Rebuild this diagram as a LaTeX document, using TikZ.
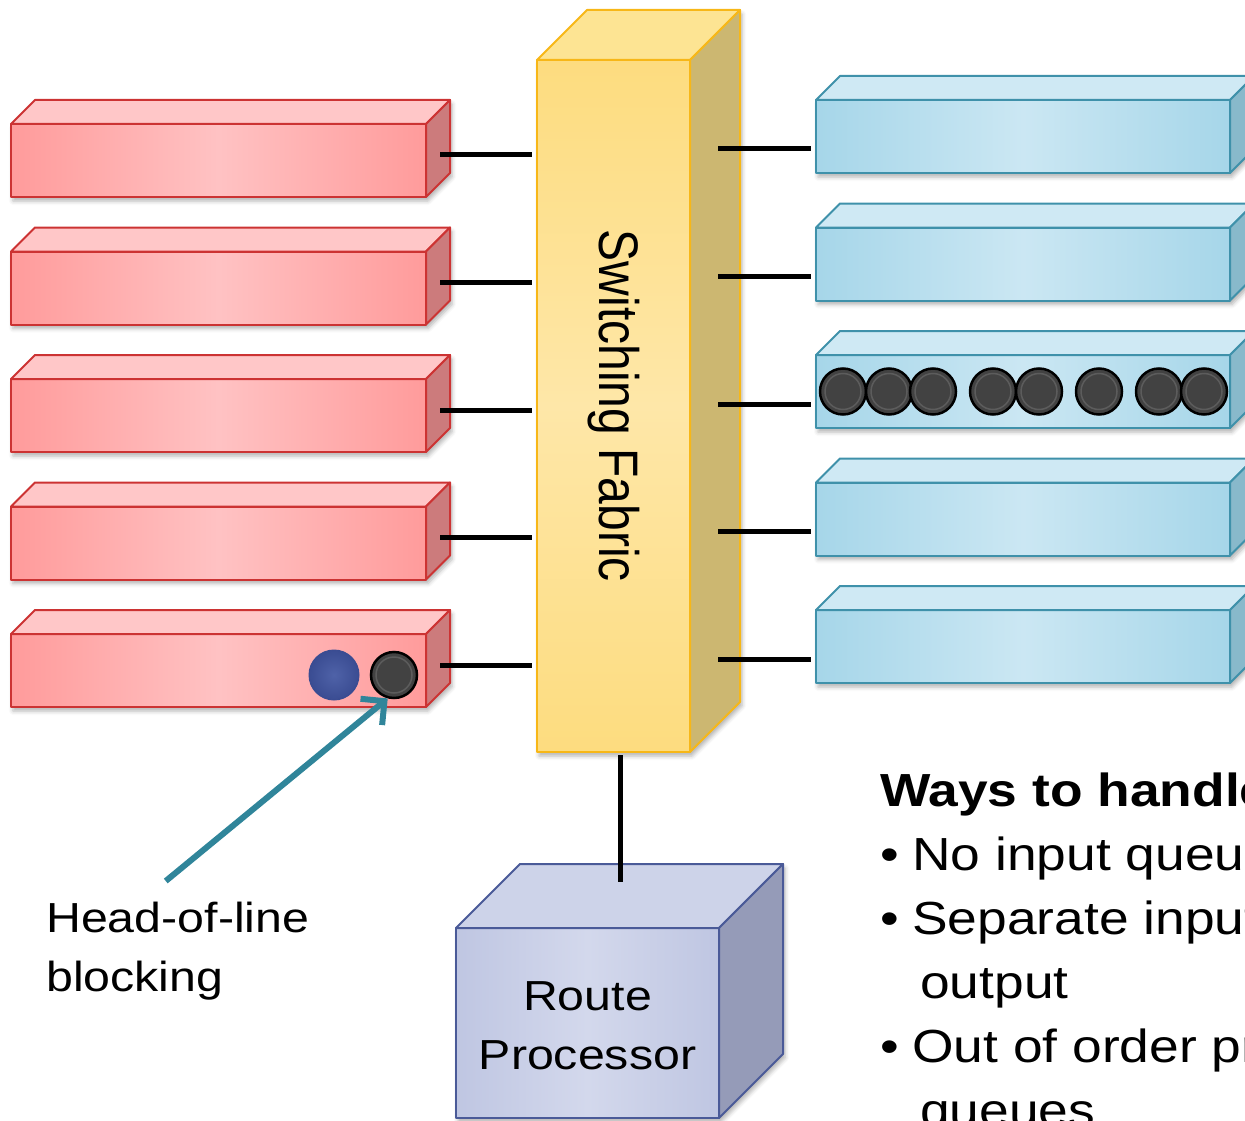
\documentclass[tikz,border=0pt]{standalone}
\usepackage{fontspec}
\setmainfont{Liberation Sans}
\newfontfamily\widesans{Liberation Sans}[FakeStretch=1.15]
\usetikzlibrary{arrows.meta, calc, backgrounds, shadows.blur}
\definecolor{cred}{HTML}{CC3333}
\definecolor{credfront}{HTML}{FF9B9B}
\definecolor{credmid}{HTML}{FFC2C3}
\definecolor{credtop}{HTML}{FFC7C8}
\definecolor{credside}{HTML}{CC7B7C}
\definecolor{cblue}{HTML}{3F91AA}
\definecolor{cbluefront}{HTML}{A6D6E9}
\definecolor{cbluemid}{HTML}{CBE7F3}
\definecolor{cbluetop}{HTML}{CFE9F4}
\definecolor{cblueside}{HTML}{88B9CB}
\definecolor{cyellow}{HTML}{F7B718}
\definecolor{cfabfront}{HTML}{FDDC7F}
\definecolor{cfabmid}{HTML}{FEE7A8}
\definecolor{cfabtop}{HTML}{FDE493}
\definecolor{cfabside}{HTML}{CCB771}
\definecolor{cslate}{HTML}{4A5A98}
\definecolor{crpfront}{HTML}{BFC6E2}
\definecolor{crpmid}{HTML}{D3D8EC}
\definecolor{crptop}{HTML}{CDD3E9}
\definecolor{crpside}{HTML}{959BB8}
\definecolor{cteal}{HTML}{30859A}
\definecolor{cpkt}{HTML}{424242}
\definecolor{cring}{HTML}{5C5C5C}
\definecolor{cnavy}{HTML}{3A4C92}
\definecolor{cnavylight}{HTML}{4F62A8}
\tikzset{
  face/.style={draw=#1, line width=2pt, line join=round},
  front/.style={face=#1, anchor=north west, inner sep=0pt, outer sep=0pt},
  link/.style={draw=black, line width=5pt},
  pointer/.style={-{Straight Barb[length=17pt, width=34pt]}, draw=cteal, line width=6pt},
  pkt/.style={circle, draw=black, line width=2.5pt, fill=cpkt, minimum size=46pt, inner sep=0pt,
    path picture={\draw[cring, line width=1.5pt] (path picture bounding box.center) circle (18pt);}},
  waitpkt/.style={circle, draw=cnavy, line width=1pt, inner color=cnavylight, outer color=cnavy, minimum size=50pt, inner sep=0pt},
  softshadow/.style={blur shadow={shadow xshift=2pt, shadow yshift=-4pt, shadow opacity=30, shadow blur radius=4pt}},
  sidetext/.style={font=\widesans\fontsize{42}{59}\selectfont, inner sep=0pt},
  bullets/.style={anchor=base west, inner sep=0pt, font=\widesans\fontsize{46.4}{60}\selectfont},
}
\begin{document}
\begin{tikzpicture}[x=1pt, y=-1pt]
  \useasboundingbox (0,0) rectangle (1245,1121);
  \clip (0,0) rectangle (1245,1121);

  % switching fabric
  \node[front=cyellow, top color=cfabfront, bottom color=cfabfront, middle color=cfabmid,
        minimum width=153pt, minimum height=692pt] (fabric) at (537,60) {};
  \draw[face=cyellow, fill=cfabtop] (fabric.north west) -- ++(50,-50) -- ++(153,0) -- (fabric.north east) -- cycle;
  \draw[face=cyellow, fill=cfabside] (fabric.north east) -- ++(50,-50) -- ++(0,692) -- (fabric.south east) -- cycle;
  \node[rotate=-90, font=\fontsize{48}{58}\selectfont] (fablabel) at (fabric.center) {\scalebox{1}[1.16]{Switching Fabric}};

  % input ports
  \foreach \i in {1,...,5} {
    \node[front=cred, left color=credfront, right color=credfront, middle color=credmid,
          minimum width=415pt, minimum height=73pt] (in\i) at (11,{124+127.5*(\i-1)}) {};
    \draw[face=cred, fill=credtop] (in\i.north west) -- ++(24,-24) -- ++(415,0) -- (in\i.north east) -- cycle;
    \draw[face=cred, fill=credside] (in\i.north east) -- ++(24,-24) -- ++(0,73) -- (in\i.south east) -- cycle;
    \draw[link] ($(in\i.east)+(14,-5.5)$) -- ($(fabric.west |- in\i.east)+(-5,-5.5)$);
  }

  % output ports
  \foreach \i in {1,...,5} {
    \node[front=cblue, left color=cbluefront, right color=cbluefront, middle color=cbluemid,
          minimum width=414pt, minimum height=73pt] (out\i) at (816,{100+127.5*(\i-1)}) {};
    \draw[face=cblue, fill=cbluetop] (out\i.north west) -- ++(24,-24) -- ++(414,0) -- (out\i.north east) -- cycle;
    \draw[face=cblue, fill=cblueside] (out\i.north east) -- ++(24,-24) -- ++(0,73) -- (out\i.south east) -- cycle;
    \draw[link] ($(fabric.east |- out\i.west)+(28,12.5)$) -- ($(out\i.west)+(-5,12.5)$);
  }

  % route processor
  \node[front=cslate, left color=crpfront, right color=crpfront, middle color=crpmid,
        minimum width=263pt, minimum height=190pt] (rp) at (456,928) {};
  \draw[face=cslate, fill=crptop] (rp.north west) -- ++(64,-64) -- ++(263,0) -- (rp.north east) -- cycle;
  \draw[face=cslate, fill=crpside] (rp.north east) -- ++(64,-64) -- ++(0,190) -- (rp.south east) -- cycle;
  \draw[link] ($(fabric.south)+(6.5,3)$) -- ($(rp.north)+(32.5,-46)$);
  \node[sidetext, align=center] (rptext) at ($(rp.center)+(0,3)$) {Route\\Processor};

  % shadows under the boxes
  \begin{scope}[on background layer]
    \foreach \i in {1,...,5} {
      \path[softshadow] (in\i.south west) -- (in\i.north west) -- ++(24,-24) -- ++(415,0) -- ++(0,73) -- (in\i.south east) -- cycle;
      \path[softshadow] (out\i.south west) -- (out\i.north west) -- ++(24,-24) -- ++(414,0) -- ++(0,73) -- (out\i.south east) -- cycle;
    }
    \path[softshadow] (fabric.south west) -- (fabric.north west) -- ++(50,-50) -- ++(153,0) -- ++(0,692) -- (fabric.south east) -- cycle;
    \path[softshadow] (rp.south west) -- (rp.north west) -- ++(64,-64) -- ++(263,0) -- ++(0,190) -- (rp.south east) -- cycle;
  \end{scope}

  % queued packets
  \foreach \px [count=\k] in {843,889,933,993,1039,1099,1159,1204}
    \node[pkt] (q\k) at (\px,391.5) {};
  \node[waitpkt] (waiting) at (334,675) {};
  \node[pkt] (stuck) at (394,675) {};

  % head-of-line note
  \node[sidetext, align=left, anchor=north west] (holtext) at (46,902) {Head-of-line\\blocking};
  \draw[pointer] ($(holtext.north)+(-12,-21)$) -- (stuck.255);

  % remedies
  \node[bullets, font=\widesans\bfseries\fontsize{46.4}{60}\selectfont] (ways) at (880,806) {Ways to handle};
  \node[bullets] (nobuf) at (880,870) {\makebox[32pt][l]{\textbullet}No input queues};
  \node[bullets] (split) at (880,934) {\makebox[32pt][l]{\textbullet}Separate input};
  \node[bullets] (splitb) at (920,998) {output};
  \node[bullets] (ooo) at (880,1062) {\makebox[32pt][l]{\textbullet}Out of order pr};
  \node[bullets] (ooob) at (920,1126) {queues};
\end{tikzpicture}
\end{document}
